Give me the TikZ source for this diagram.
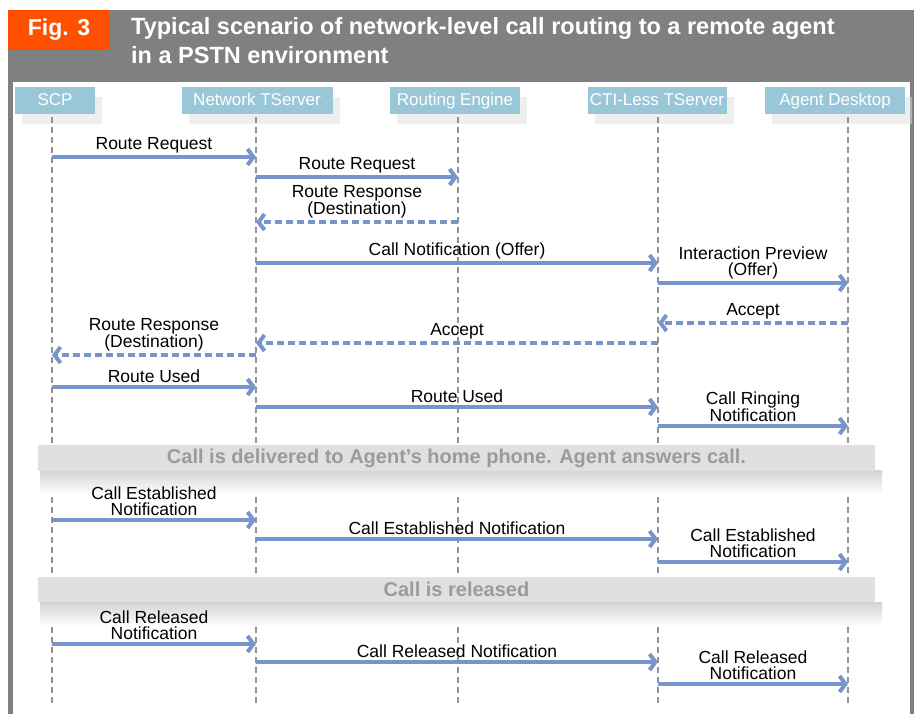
\documentclass[tikz,border=0pt]{standalone}
\usepackage{fontspec}
\setmainfont{Liberation Sans}
\usetikzlibrary{arrows.meta, positioning, shadows}
\definecolor{figorange}{HTML}{FF5000}
\definecolor{titlegray}{HTML}{808080}
\definecolor{headblue}{HTML}{9AC7D8}
\definecolor{msgblue}{HTML}{7895CB}
\definecolor{bandgray}{HTML}{E0E0E0}
\definecolor{bandtext}{HTML}{9B9B9B}

% one message: from, to, y, style, label
\newcommand{\msg}[5]{%
  \coordinate (#1#3) at (#1 |- 0,#3);
  \coordinate (#2#3) at (#2 |- 0,#3);
  \draw[#4] (#1#3) -- node[lbl] {#5} (#2#3);}

\begin{document}
\begin{tikzpicture}[
    x=1pt, y=-1pt,
    every node/.style={font=\fontsize{17.5}{16}\selectfont},
    head/.style={
        fill=headblue,
        text=white,
        minimum height=27pt,
        inner sep=0pt,
        text height=12.5pt,
        text depth=3.5pt,
        font=\fontsize{17}{17}\selectfont,
        drop shadow={fill=black!13, shadow xshift=7pt, shadow yshift=-10pt}
    },
    lifeline/.style={draw=gray!85, dash pattern=on 6pt off 4pt, line width=1.6pt},
    call/.style={draw=msgblue, line width=4pt, -{Straight Barb[length=6pt,width=16pt]}},
    reply/.style={call, dash pattern=on 7pt off 4pt},
    lbl/.style={above, align=center, inner sep=2pt},
    band/.style={
        fill=bandgray,
        text=bandtext,
        font=\bfseries\fontsize{20}{20}\selectfont,
        minimum width=837pt,
        minimum height=25pt
    }
]
\useasboundingbox (0,0) rectangle (917,714);

% FRAME AND TITLE
\fill[titlegray] (8,10) rectangle (914,82);
\fill[titlegray] (8,82) rectangle (13,714);
\fill[titlegray] (910,82) rectangle (914,714);
\fill[figorange] (8,10) rectangle (110,50);
\node[text=white, font=\bfseries\fontsize{23}{23}\selectfont] (fig) at (59,30) {Fig. 3};
\node[text=white, font=\bfseries\fontsize{23.5}{29}\selectfont, anchor=north west, align=left, inner sep=0pt] (title) at (131,17)
    {Typical scenario of network-level call routing to a remote agent\\in a PSTN environment};

% HEADERS
\node[head, minimum width=80pt] (scpbox) at (55,101) {SCP};
\node[head, minimum width=151pt] (ntsbox) at (257,101) {Network TServer};
\node[head, minimum width=130pt] (rebox) at (455,101) {Routing Engine};
\node[head, minimum width=139pt] (ctibox) at (657,101) {CTI-Less TServer};
\node[head, minimum width=140pt] (adbox) at (835,101) {Agent Desktop};

% LIFELINES
\coordinate (scp) at (52,117);
\coordinate (nts) at (256,117);
\coordinate (re) at (458,117);
\coordinate (cti) at (658,117);
\coordinate (ad) at (848,117);
\foreach \l in {scp, nts, re, cti, ad}
    \draw[lifeline] (\l) -- (\l |- 0,706);

% ROUTING
\msg{scp}{nts}{157}{call}{Route Request}
\msg{nts}{re}{177}{call}{Route Request}
\msg{re}{nts}{222}{reply}{Route Response\\(Destination)}
\msg{nts}{cti}{263}{call}{Call Notification (Offer)}
\msg{cti}{ad}{283}{call}{Interaction Preview\\(Offer)}
\msg{ad}{cti}{323}{reply}{Accept}
\msg{cti}{nts}{343}{reply}{Accept}
\msg{nts}{scp}{355}{reply}{Route Response\\(Destination)}
\msg{scp}{nts}{387}{call}{Route Used}
\msg{nts}{cti}{407}{call}{Route Used}
\msg{cti}{ad}{426}{call}{Call Ringing\\Notification}

% DELIVERED
\shade[top color=black!17, bottom color=white] (40,470) rectangle (882,494);
\node[band] (delivered) at (456.5,458) {Call is delivered to Agent's home phone. Agent answers call.};

\msg{scp}{nts}{520}{call}{Call Established\\Notification}
\msg{nts}{cti}{539}{call}{Call Established Notification}
\msg{cti}{ad}{562}{call}{Call Established\\Notification}

% RELEASED
\shade[top color=black!17, bottom color=white] (40,602) rectangle (882,626);
\node[band] (released) at (456.5,589) {Call is released};

\msg{scp}{nts}{644}{call}{Call Released\\Notification}
\msg{nts}{cti}{662}{call}{Call Released Notification}
\msg{cti}{ad}{684}{call}{Call Released\\Notification}

\end{tikzpicture}
\end{document}
